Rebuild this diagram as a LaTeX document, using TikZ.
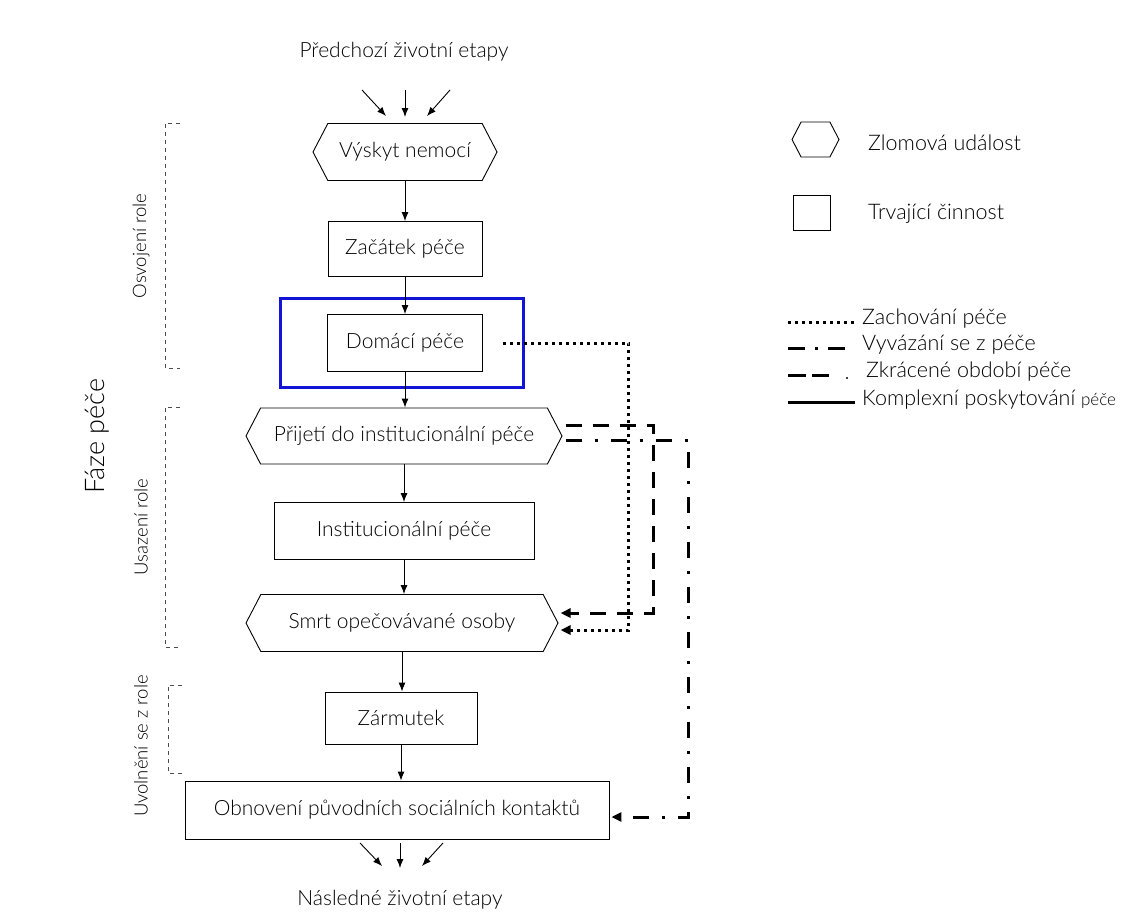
\documentclass[tikz,border=0pt]{standalone}
\usepackage{fontspec}
\setmainfont{Lato}[UprightFont={* Light}]
\usetikzlibrary{arrows.meta,shapes.symbols,calc}
\definecolor{hl}{RGB}{20,20,215}
\begin{document}
\begin{tikzpicture}[x=1pt,y=-1pt,
  every node/.style={font=\fontsize{21}{24}\selectfont, inner sep=0pt},
  box/.style={draw, line width=0.9pt, minimum height=56pt},
  hexa/.style={draw, line width=0.9pt, signal, signal to=west and east, signal pointer angle=125, minimum height=57pt},
  flow/.style={line width=0.9pt, -{Latex[length=9pt,width=7pt]}},
  conv/.style={line width=0.9pt, -{Latex[length=9pt,width=7pt]}},
  dotline/.style={line width=3pt, dash pattern=on 3pt off 4pt, -{Triangle[length=10pt,width=9pt]}},
  dashline/.style={line width=3pt, dash pattern=on 16pt off 11pt, -{Triangle[length=10pt,width=9pt]}},
  dashdotline/.style={line width=3pt, dash pattern=on 16pt off 13pt on 3pt off 13pt, -{Triangle[length=10pt,width=9pt]}},
  brack/.style={line width=0.7pt, gray!60!black, dash pattern=on 4pt off 4pt},
  sidelabel/.style={rotate=90, font=\fontsize{18.5}{21}\selectfont},
  legtext/.style={anchor=west, font=\fontsize{21.5}{24}\selectfont},
]
\useasboundingbox (0,0) rectangle (1131,921);

% main column
\node (pre) at (404,52) {Předchozí životní etapy};
\node[hexa, minimum width=184pt] (vys) at (405,152) {Výskyt nemocí};
\node[box, minimum width=154pt, minimum height=55pt] (zac) at (405,249) {Začátek péče};
\node[box, minimum width=155pt, minimum height=57pt] (dom) at (405,343) {Domácí péče};
\node[hexa, minimum width=316pt, minimum height=56pt] (pri) at (404,436) {Přijetí do institucionální péče};
\node[box, minimum width=260pt, minimum height=57pt] (ins) at (404,531) {Institucionální péče};
\node[hexa, minimum width=312pt] (smr) at (402,623) {Smrt opečovávané osoby};
\node[box, minimum width=152pt, minimum height=52pt] (zar) at (401,718) {Zármutek};
\node[box, minimum width=424pt, minimum height=58pt] (obn) at (397,810) {Obnovení původních sociálních kontaktů};
\node (nas) at (400,900) {Následné životní etapy};

% highlight
\node[draw=hl, line width=3pt, minimum width=243pt, minimum height=89pt] (hlbox) at (401.5,342.5) {};

% converging arrows
\coordinate (a1s) at (362,90); \coordinate (a1e) at (386,116);
\coordinate (a2s) at (405,90); \coordinate (a2e) at (405,117);
\coordinate (a3s) at (450,90); \coordinate (a3e) at (427,116);
\draw[conv] (a1s) -- (a1e);
\draw[conv] (a2s) -- (a2e);
\draw[conv] (a3s) -- (a3e);
\coordinate (b1s) at (360,843); \coordinate (b1e) at (382,866);
\coordinate (b2s) at (400,843); \coordinate (b2e) at (400,868);
\coordinate (b3s) at (443,843); \coordinate (b3e) at (422,866);
\draw[conv] (b1s) -- (b1e);
\draw[conv] (b2s) -- (b2e);
\draw[conv] (b3s) -- (b3e);

% flow arrows
\draw[flow] (vys.south) -- (vys.south |- zac.north);
\draw[flow] (zac.south) -- (zac.south |- dom.north);
\draw[flow] (dom.south) -- (dom.south |- pri.north);
\draw[flow] (pri.south) -- (pri.south |- ins.north);
\draw[flow] (ins.south) -- (ins.south |- smr.north);
\draw[flow] (smr.south) -- (smr.south |- zar.north);
\draw[flow] (zar.south) -- (zar.south |- obn.north);

% alternative paths
\coordinate (d0) at ($(dom.east)+(20,0)$);
\draw[dotline] (d0) -- ++(126,0) |- ($(smr.east)+(2,7)$);
\draw[dashline] ($(pri.east)+(3,-11)$) -- ++(88,0) |- ($(smr.east)+(2,-10)$);
\draw[dashdotline] ($(pri.east)+(3,4)$) -- ++(123,0) |- ($(obn.east)+(2,7)$);

% side brackets
\draw[brack] (180,123) -- (165,123) -- (165,368) -- (180,368);
\draw[brack] (180,407) -- (165,407) -- (165,647) -- (180,647);
\draw[brack] (182,685) -- (168,685) -- (168,773) -- (182,773);
\node[sidelabel] (l1) at (141,246) {Osvojení role};
\node[sidelabel] (l2) at (141,527) {Usazení role};
\node[sidelabel] (l3) at (141,746) {Uvolnění se z role};
\node[rotate=90, font=\fontsize{27}{30}\selectfont] (faze) at (97,436) {Fáze péče};

% legend
\node[hexa, minimum width=47pt, minimum height=35pt] (lh) at (815.5,139.5) {};
\node[legtext] (lht) at (868,143) {Zlomová událost};
\node[box, minimum width=37pt, minimum height=35pt] (lb) at (811.5,212.5) {};
\node[legtext] (lbt) at (868,214) {Trvající činnost};

\coordinate (p1s) at (788,322); \coordinate (p1e) at (857,322);
\draw[line width=3pt, dash pattern=on 3pt off 4pt] (p1s) -- (p1e);
\node[legtext] (t1) at (862,319) {Zachování péče};
\coordinate (p2s) at (788,348); \coordinate (p2e) at (850,348);
\draw[line width=3pt, dash pattern=on 17pt off 10pt on 3pt off 10pt] (p2s) -- (p2e);
\node[legtext] (t2) at (862,345) {Vyvázání se z péče};
\coordinate (p3s) at (788,375); \coordinate (p3e) at (829,375);
\draw[line width=3pt, dash pattern=on 18pt off 6pt] (p3s) -- (p3e);
\fill (847,378) circle (1.2pt);
\node[legtext] (t3) at (866,372) {Zkrácené období péče};
\coordinate (p4s) at (788,402); \coordinate (p4e) at (855,402);
\draw[line width=3pt] (p4s) -- (p4e);
\node[legtext] (t4) at (862,400) {Komplexní poskytování {\fontsize{17}{20}\selectfont péče}};
\end{tikzpicture}
\end{document}
